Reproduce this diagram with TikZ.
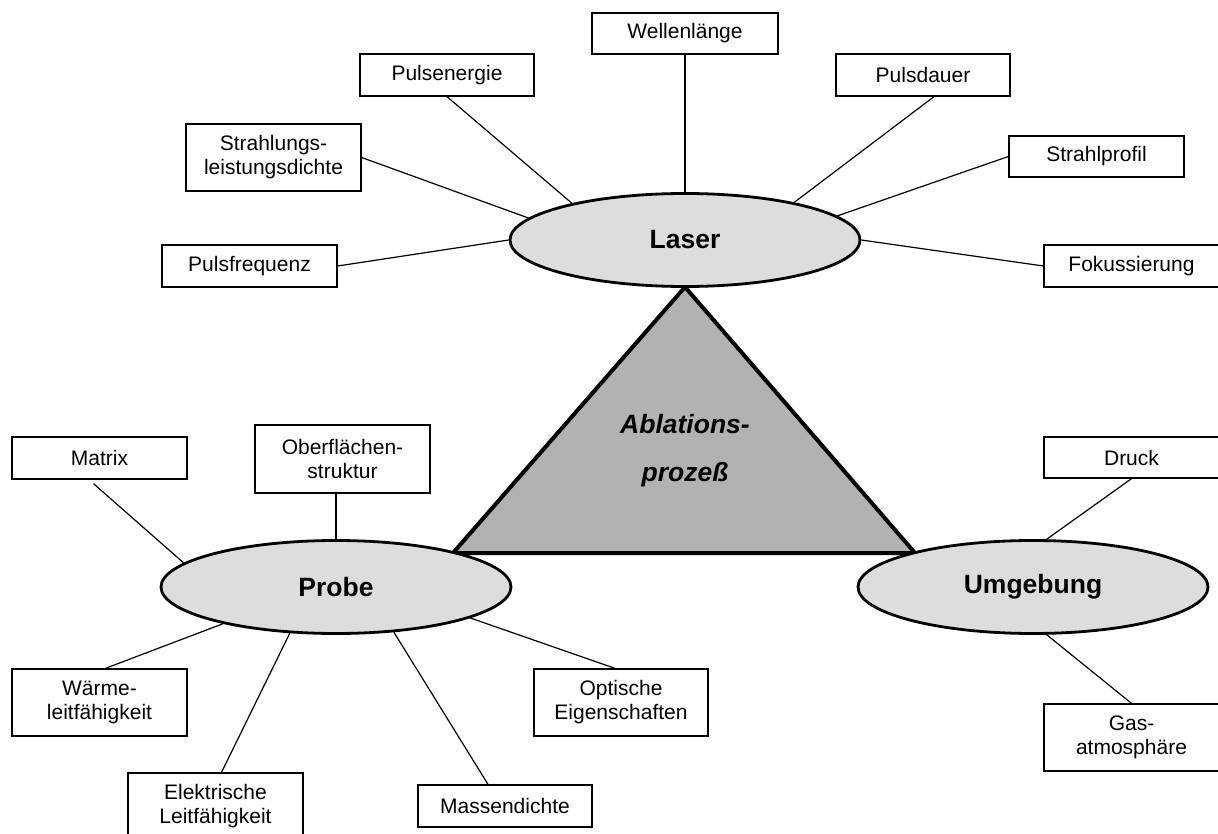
\documentclass[tikz,border=0pt]{standalone}
\usepackage{fontspec}
\setmainfont{Liberation Sans}
\usepackage{tikz}
\usetikzlibrary{shapes.geometric}

\definecolor{ovalgray}{RGB}{221,221,221}
\definecolor{trigray}{RGB}{178,178,178}

\begin{document}
\begin{tikzpicture}[x=1pt,y=-1pt,
  box/.style={draw,line width=1.3pt,minimum width=175pt,minimum height=42pt,inner sep=0pt,align=center,font=\fontsize{21}{24}\selectfont},
  oval/.style={ellipse,draw,line width=2.8pt,fill=ovalgray,minimum width=350pt,minimum height=93pt,inner sep=0pt,font=\fontsize{26.5}{30}\selectfont\bfseries},
  link/.style={line width=1.2pt}]
\useasboundingbox (0,0) rectangle (1218,834);
\clip (0,0) rectangle (1218,834);

% triangle in the middle
\coordinate (apex) at (685,287);
\coordinate (left) at (453,553);
\coordinate (right) at (915,553);
\draw [line width=4pt,fill=trigray] (apex) -- (left) -- (right) -- cycle;
\node [font=\fontsize{26.5}{48}\selectfont\bfseries\itshape,align=center] (abl) at (685,451) {Ablations-\\prozeß};

\node [oval] (laser) at (685,240) {Laser};
\node [oval] (probe) at (336,587) {Probe};
\node [oval] (umg) at (1033,587) {Umgebung};

% Laser
\node [box,minimum width=186pt,minimum height=41pt] (wl) at (685,33.5) {Wellenlänge};
\node [box,minimum width=174pt] (pe) at (447,75) {Pulsenergie};
\node [box,minimum height=67pt] (sl) at (273.5,157.5) {Strahlungs-\\leistungsdichte};
\node [box] (pf) at (249.5,266) {Pulsfrequenz};
\node [box,minimum width=174pt] (pd) at (923,75) {Pulsdauer};
\node [box,minimum height=41pt] (sp) at (1096.5,156.5) {Strahlprofil};
\node [box] (fk) at (1131.5,266) {Fokussierung};

% Probe
\node [box] (mx) at (99.5,458) {Matrix};
\node [box,minimum height=68pt] (of) at (342.5,459) {Oberflächen-\\struktur};
\node [box,minimum height=67pt] (wa) at (99.5,702.5) {Wärme-\\leitfähigkeit};
\node [box,minimum height=67pt] (el) at (215.5,806.5) {Elektrische\\Leitfähigkeit};
\node [box,minimum width=174pt] (md) at (505,806) {Massendichte};
\node [box,minimum width=174pt,minimum height=67pt] (op) at (621,702.5) {Optische\\Eigenschaften};

% Umgebung
\node [box,minimum height=41pt] (dr) at (1131.5,457.5) {Druck};
\node [box,minimum height=67pt] (ga) at (1131.5,737.5) {Gas-\\atmosphäre};

\draw [link] (wl.south) -- (laser.north);
\draw [link] (pe.south) -- (laser.162);
\draw [link] (sl.east) -- (laser.172);
\draw [link] (pf.east) -- (laser.180);
\draw [link] ([xshift=11pt]pd.south) -- (laser.19);
\draw [link] (sp.west) -- (laser.9);
\draw [link] (fk.west) -- (laser.0);

\draw [link] ([shift={(-6pt,-4pt)}]mx.south) -- (probe.171);
\draw [link] (probe.north) -- (probe.north |- of.south);
\draw [link] ([xshift=6pt]wa.north) -- (probe.-162);
\draw [link] ([xshift=6pt]el.north) -- (probe.225);
\draw [link] ([xshift=-17pt]md.north) -- (probe.-38);
\draw [link] ([xshift=-6pt]op.north) -- (probe.-13);

\draw [link] (dr.south) -- (umg.74);
\draw [link] (ga.north) -- (umg.-74);
\end{tikzpicture}
\end{document}
